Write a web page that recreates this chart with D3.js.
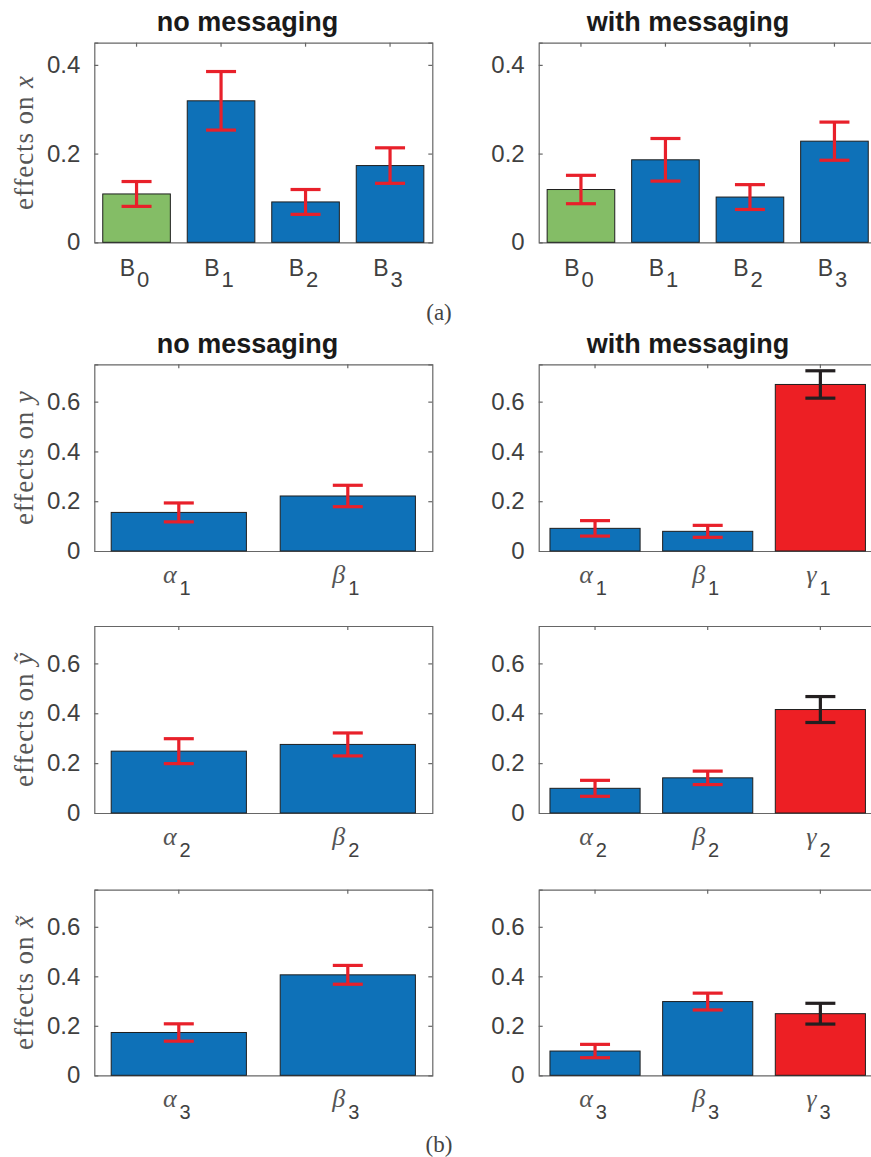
<!DOCTYPE html>
<html>
<head>
<meta charset="utf-8">
<script src="https://cdn.jsdelivr.net/npm/d3@7"></script>
<style>
  html, body { margin: 0; padding: 0; background: #fff; }
  svg { display: block; }
</style>
</head>
<body>
<svg id="chart" width="871" height="1157"></svg>
<script>
// ---- data ----
// (a) effects on x, categories B0..B3
const catsA = ["B", "B", "B", "B"];
const catsASub = ["0", "1", "2", "3"];
const xNoMsg = [0.109, 0.319, 0.091, 0.173];
const xNoMsgErr = [0.028, 0.066, 0.028, 0.040];
const xWithMsg = [0.119, 0.186, 0.102, 0.228];
const xWithMsgErr = [0.032, 0.048, 0.028, 0.043];

// (b) effects on y, y-tilde, x-tilde
const greekNoMsg = ["\u03B1", "\u03B2"];
const greekWithMsg = ["\u03B1", "\u03B2", "\u03B3"];

const yNoMsg = [0.155, 0.221];
const yNoMsgErr = [0.038, 0.043];
const yWithMsg = [0.091, 0.079, 0.669];
const yWithMsgErr = [0.031, 0.024, 0.055];

const ytNoMsg = [0.248, 0.275];
const ytNoMsgErr = [0.050, 0.046];
const ytWithMsg = [0.099, 0.141, 0.415];
const ytWithMsgErr = [0.032, 0.027, 0.052];

const xtNoMsg = [0.173, 0.406];
const xtNoMsgErr = [0.035, 0.038];
const xtWithMsg = [0.098, 0.298, 0.249];
const xtWithMsgErr = [0.027, 0.034, 0.042];

const yTicksA = [0, 0.2, 0.4];
const yTicksB = [0, 0.2, 0.4, 0.6];
const colTitles = ["no messaging", "with messaging"];

// ---- styling ----
const BLUE = "#0e71b8";
const GREEN = "#84bd66";
const RED = "#ed1f24";
const ERR_RED = "#e8202a";
const ERR_DARK = "#231f20";
const AXIS = "#666666";
const TICK_TEXT = "#404040";
const SANS = "'Liberation Sans', Arial, Helvetica, sans-serif";
const SERIF = "'Liberation Serif', 'Times New Roman', serif";

const svg = d3.select("#chart");

const colX = [94.3, 538.7];
const axW = 338;
const titleX = [247.5, 688];

const rows = [
  { top: 42.7, h: 199.6, ymax: 0.45, ticks: yTicksA, ylab: "x", tilde: false,
    panels: [
      { vals: xNoMsg, err: xNoMsgErr, base: catsA, sub: catsASub, greek: false,
        fill: [GREEN, BLUE, BLUE, BLUE], ecol: [ERR_RED, ERR_RED, ERR_RED, ERR_RED] },
      { vals: xWithMsg, err: xWithMsgErr, base: catsA, sub: catsASub, greek: false,
        fill: [GREEN, BLUE, BLUE, BLUE], ecol: [ERR_RED, ERR_RED, ERR_RED, ERR_RED] }
    ], titles: true },
  { top: 364.3, h: 186.7, ymax: 0.75, ticks: yTicksB, ylab: "y", tilde: false,
    panels: [
      { vals: yNoMsg, err: yNoMsgErr, base: greekNoMsg, sub: ["1", "1"], greek: true,
        fill: [BLUE, BLUE], ecol: [ERR_RED, ERR_RED] },
      { vals: yWithMsg, err: yWithMsgErr, base: greekWithMsg, sub: ["1", "1", "1"], greek: true,
        fill: [BLUE, BLUE, RED], ecol: [ERR_RED, ERR_RED, ERR_DARK] }
    ], titles: true },
  { top: 626, h: 187, ymax: 0.75, ticks: yTicksB, ylab: "\u1EF9", tilde: true,
    panels: [
      { vals: ytNoMsg, err: ytNoMsgErr, base: greekNoMsg, sub: ["2", "2"], greek: true,
        fill: [BLUE, BLUE], ecol: [ERR_RED, ERR_RED] },
      { vals: ytWithMsg, err: ytWithMsgErr, base: greekWithMsg, sub: ["2", "2", "2"], greek: true,
        fill: [BLUE, BLUE, RED], ecol: [ERR_RED, ERR_RED, ERR_DARK] }
    ], titles: false },
  { top: 889.7, h: 185.6, ymax: 0.75, ticks: yTicksB, ylab: "x\u0303", tilde: true,
    panels: [
      { vals: xtNoMsg, err: xtNoMsgErr, base: greekNoMsg, sub: ["3", "3"], greek: true,
        fill: [BLUE, BLUE], ecol: [ERR_RED, ERR_RED] },
      { vals: xtWithMsg, err: xtWithMsgErr, base: greekWithMsg, sub: ["3", "3", "3"], greek: true,
        fill: [BLUE, BLUE, RED], ecol: [ERR_RED, ERR_RED, ERR_DARK] }
    ], titles: false }
];

const fmt = d => d === 0 ? "0" : d3.format(".1f")(d);

rows.forEach(row => {
  const bottom = row.top + row.h;
  const y = d3.scaleLinear().domain([0, row.ymax]).range([bottom, row.top]);

  // y-axis label, rotated
  const lab = svg.append("text")
    .attr("transform", `translate(32.5,${row.top + row.h / 2}) rotate(-90)`)
    .attr("text-anchor", "middle")
    .attr("font-family", SERIF)
    .attr("font-size", 27)
    .attr("letter-spacing", 0.9)
    .attr("fill", "#555");
  lab.append("tspan").text("effects on ");
  lab.append("tspan").attr("font-style", "italic").text(row.ylab);

  row.panels.forEach((p, ci) => {
    const x0 = colX[ci];
    const g = svg.append("g");
    const n = p.vals.length;
    const x = d3.scaleBand()
      .domain(d3.range(n))
      .range([x0, x0 + axW])
      .paddingInner(0.2)
      .paddingOuter(0.1);
    const cx = i => x(i) + x.bandwidth() / 2;

    // frame with inward ticks
    const axL = g.append("g").attr("transform", `translate(${x0},0)`)
      .call(d3.axisLeft(y).tickValues(row.ticks).tickFormat(fmt).tickSize(-4).tickPadding(14));
    const axR = g.append("g").attr("transform", `translate(${x0 + axW},0)`)
      .call(d3.axisRight(y).tickValues(row.ticks).tickFormat("").tickSize(-4));
    const axT = g.append("g").attr("transform", `translate(0,${row.top})`)
      .call(d3.axisTop(x).tickFormat("").tickSize(-4).tickSizeOuter(0));
    const axB = g.append("g").attr("transform", `translate(0,${bottom})`)
      .call(d3.axisBottom(x).tickFormat("").tickSize(-4).tickSizeOuter(0));
    [axL, axR, axT, axB].forEach(a => {
      a.selectAll("path.domain").attr("stroke", AXIS).attr("stroke-width", 1.2);
      a.selectAll(".tick line").attr("stroke", AXIS).attr("stroke-width", 1.2);
    });
    // the y=0 tick is hidden in the bottom axis line
    axL.selectAll(".tick line").filter(d => d === 0).remove();
    axR.selectAll(".tick line").filter(d => d === 0).remove();
    axL.selectAll(".tick text")
      .attr("font-family", SANS).attr("font-size", 24).attr("fill", TICK_TEXT);

    // bars
    g.selectAll("rect.bar").data(p.vals).join("rect")
      .attr("class", "bar")
      .attr("x", (d, i) => x(i))
      .attr("width", x.bandwidth())
      .attr("y", d => y(d))
      .attr("height", d => bottom - y(d))
      .attr("fill", (d, i) => p.fill[i])
      .attr("stroke", "#1e1e1e")
      .attr("stroke-width", 1);

    // error bars
    const capHalf = 15;
    p.vals.forEach((v, i) => {
      const e = p.err[i];
      const c = cx(i);
      const eg = g.append("g").attr("stroke", p.ecol[i]).attr("stroke-width", 3.2);
      eg.append("line").attr("x1", c).attr("x2", c).attr("y1", y(v - e)).attr("y2", y(v + e));
      eg.append("line").attr("x1", c - capHalf).attr("x2", c + capHalf).attr("y1", y(v + e)).attr("y2", y(v + e));
      eg.append("line").attr("x1", c - capHalf).attr("x2", c + capHalf).attr("y1", y(v - e)).attr("y2", y(v - e));
    });

    // category labels with subscripts
    p.base.forEach((b, i) => {
      const t = g.append("text")
        .attr("x", cx(i) - 2)
        .attr("y", bottom + (p.greek ? 32 : 34))
        .attr("text-anchor", "middle")
        .attr("fill", TICK_TEXT);
      if (p.greek) {
        t.append("tspan").attr("font-family", SERIF).attr("font-style", "italic")
          .attr("font-size", 26).attr("fill", "#555").text(b);
        t.append("tspan").attr("font-family", SANS).attr("font-size", 20)
          .attr("dx", 3).attr("dy", 11.5).text(p.sub[i]);
      } else {
        t.append("tspan").attr("font-family", SANS).attr("font-size", 23).text(b);
        t.append("tspan").attr("font-family", SANS).attr("font-size", 22)
          .attr("dx", 2).attr("dy", 10.5).text(p.sub[i]);
      }
    });

    // column titles
    if (row.titles) {
      svg.append("text")
        .attr("x", titleX[ci])
        .attr("y", row.top - 11.5)
        .attr("text-anchor", "middle")
        .attr("font-family", SANS)
        .attr("font-weight", "bold")
        .attr("font-size", 27)
        .attr("fill", "#1a1a1a")
        .text(colTitles[ci]);
    }
  });
});

// sub-figure captions
[["(a)", 320], ["(b)", 1151.5]].forEach(([s, yy]) => {
  svg.append("text")
    .attr("x", 439).attr("y", yy)
    .attr("text-anchor", "middle")
    .attr("font-family", SERIF)
    .attr("font-size", 23)
    .attr("fill", "#444")
    .text(s);
});
</script>
</body>
</html>
